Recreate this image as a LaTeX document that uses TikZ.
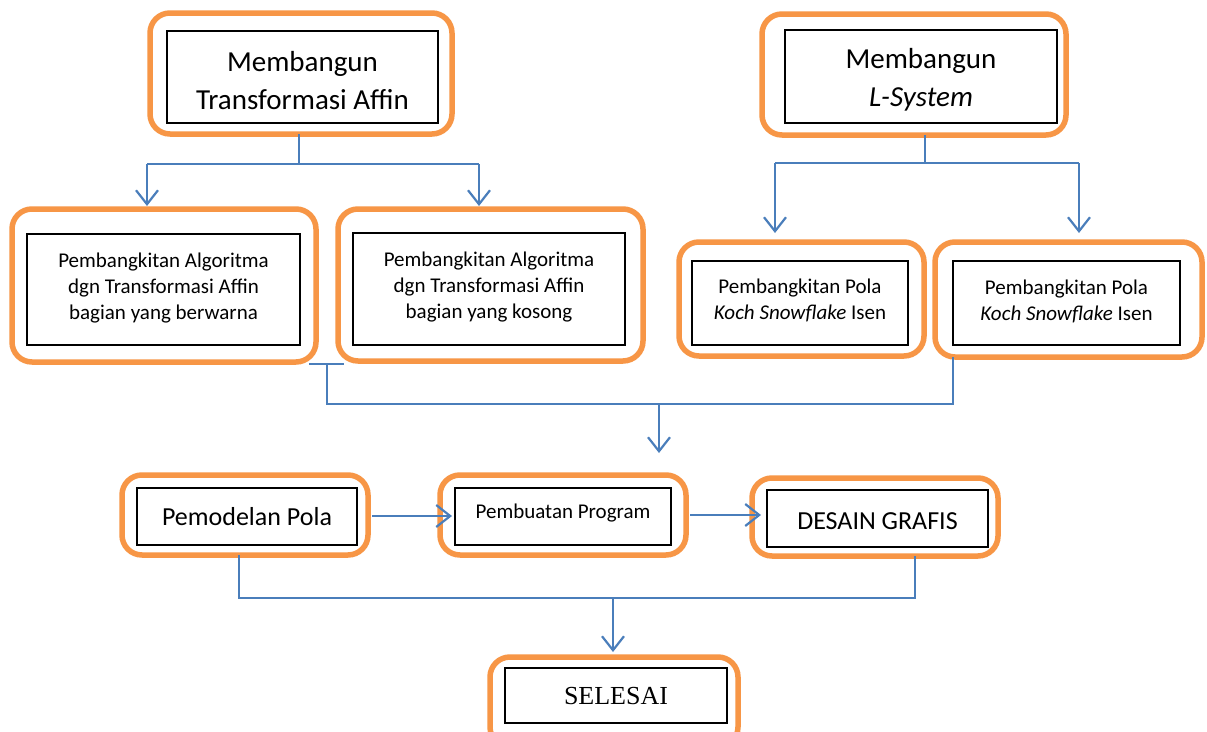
\documentclass[tikz,border=0pt]{standalone}
\usepackage{fontspec}
\setmainfont{Carlito}
\newfontfamily\timesf{Liberation Serif}
\usetikzlibrary{arrows.meta}
\definecolor{orn}{HTML}{F79646}
\definecolor{blu}{HTML}{4A7EBB}
\tikzset{
  outerbox/.style={draw=orn, line width=5.5pt, rounded corners=20pt, inner sep=0pt, outer sep=0pt},
  innerbox/.style={draw=black, line width=1.8pt, inner sep=0pt, outer sep=0pt},
  txt/.style={align=center, text=black, inner sep=0pt},
  conn/.style={draw=blu, line width=2.2pt},
  arr/.style={conn, -{Straight Barb[length=14pt,width=22pt]}},
  bigtxt/.style={txt, font=\fontsize{29}{38}\selectfont},
  midtxt/.style={txt, font=\fontsize{21}{26}\selectfont},
}
\begin{document}
\begin{tikzpicture}[x=1pt,y=-1pt]
\useasboundingbox (0,0) rectangle (1207,731);
\fill[white] (0,0) rectangle (1207,731);

% top row
\node[outerbox, minimum width=302, minimum height=121] (A) at (301,73.5) {};
\node[innerbox, minimum width=271, minimum height=92] (Ai) at (302.5,77) {};
\node[bigtxt] (At) at (302.5,81) {Membangun\\Transformasi Affin};
\node[outerbox, minimum width=304, minimum height=121] (B) at (914,74.5) {};
\node[innerbox, minimum width=272, minimum height=93] (Bi) at (921,76.5) {};
\node[bigtxt] (Bt) at (921,80) {Membangun\\\textit{L-System}};

% second row
\node[outerbox, minimum width=304, minimum height=153] (C) at (164,285.5) {};
\node[innerbox, minimum width=273, minimum height=111] (Ci) at (163.5,289.5) {};
\node[midtxt] (Ct) at (163.5,288.5) {Pembangkitan Algoritma\\dgn Transformasi Affin\\bagian yang berwarna};
\node[outerbox, minimum width=305, minimum height=152] (D) at (490.5,285) {};
\node[innerbox, minimum width=272, minimum height=112] (Di) at (489,289) {};
\node[midtxt] (Dt) at (489,287) {Pembangkitan Algoritma\\dgn Transformasi Affin\\bagian yang kosong};
\node[outerbox, minimum width=245, minimum height=114] (E) at (801.5,299) {};
\node[innerbox, minimum width=216, minimum height=84] (Ei) at (800,303) {};
\node[midtxt] (Et) at (800,300) {Pembangkitan Pola\\\textit{Koch Snowflake} Isen};
\node[outerbox, minimum width=267, minimum height=115] (F) at (1068.5,299.5) {};
\node[innerbox, minimum width=227, minimum height=84] (Fi) at (1066.5,303) {};
\node[midtxt] (Ft) at (1066.5,301) {Pembangkitan Pola\\\textit{Koch Snowflake} Isen};

% third row
\node[outerbox, minimum width=246, minimum height=80] (G) at (245,515) {};
\node[innerbox, minimum width=220, minimum height=57] (Gi) at (247,516.5) {};
\node[txt, font=\fontsize{26}{30}\selectfont] (Gt) at (247,516.5) {Pemodelan Pola};
\node[outerbox, minimum width=246, minimum height=80] (H) at (563,515) {};
\node[innerbox, minimum width=216, minimum height=57] (Hi) at (563,516.5) {};
\node[txt, font=\fontsize{21}{25}\selectfont] (Ht) at (563,513.5) {Pembuatan Program};
\node[outerbox, minimum width=246, minimum height=78] (I) at (875,517) {};
\node[innerbox, minimum width=221, minimum height=57] (Ii) at (877.5,518.5) {};
\node[txt, font=\fontsize{26}{30}\selectfont] (It) at (877.5,521) {DESAIN GRAFIS};

% bottom
\node[outerbox, minimum width=248, minimum height=90] (J) at (614,702) {};
\node[innerbox, minimum width=222, minimum height=55] (Ji) at (616,695.5) {};
\node[txt, font=\timesf\fontsize{26}{30}\selectfont] (Jt) at (616,696) {SELESAI};

% connectors top-left
\coordinate (ja) at (299,164);
\coordinate (ja1) at (147,164);
\coordinate (ja2) at (479,164);
\draw[conn] (ja |- A.south) -- (ja);
\draw[conn] (ja1) -- (ja2);
\draw[arr, shorten >=3pt] (ja1) -- (ja1 |- C.north);
\draw[arr, shorten >=3pt] (ja2) -- (ja2 |- D.north);

% connectors top-right
\coordinate (jb) at (925,163);
\coordinate (jb1) at (775,163);
\coordinate (jb2) at (1079,163);
\draw[conn] (jb |- B.south) -- (jb);
\draw[conn] (jb1) -- (jb2);
\draw[arr, shorten >=9pt] (jb1) -- (jb1 |- E.north);
\draw[arr, shorten >=9pt] (jb2) -- (jb2 |- F.north);

% merge
\coordinate (t1) at (309,364);
\coordinate (t2) at (344,364);
\coordinate (tc) at (327,364);
\coordinate (m1) at (327,404);
\coordinate (m2) at (953,404);
\coordinate (m3) at (659,404);
\coordinate (m4) at (659,453);
\draw[conn] (t1) -- (t2);
\draw[conn] (tc) -- (m1) -- (m2) -- (m2 |- F.south);
\draw[arr] (m3) -- (m4);

% row 3 arrows
\coordinate (r1) at (372,516);
\coordinate (r2) at (690,515);
\draw[arr, shorten >=-12pt] (r1) -- (r1 -| H.west);
\draw[arr, shorten >=-9pt] (r2) -- (r2 -| I.west);

% bottom merge
\coordinate (k1) at (239,598);
\coordinate (k2) at (915,598);
\coordinate (k3) at (613,598);
\draw[conn] (k1 |- G.south) -- (k1) -- (k2) -- (k2 |- I.south);
\draw[arr, shorten >=5pt] (k3) -- (k3 |- J.north);
\end{tikzpicture}
\end{document}
